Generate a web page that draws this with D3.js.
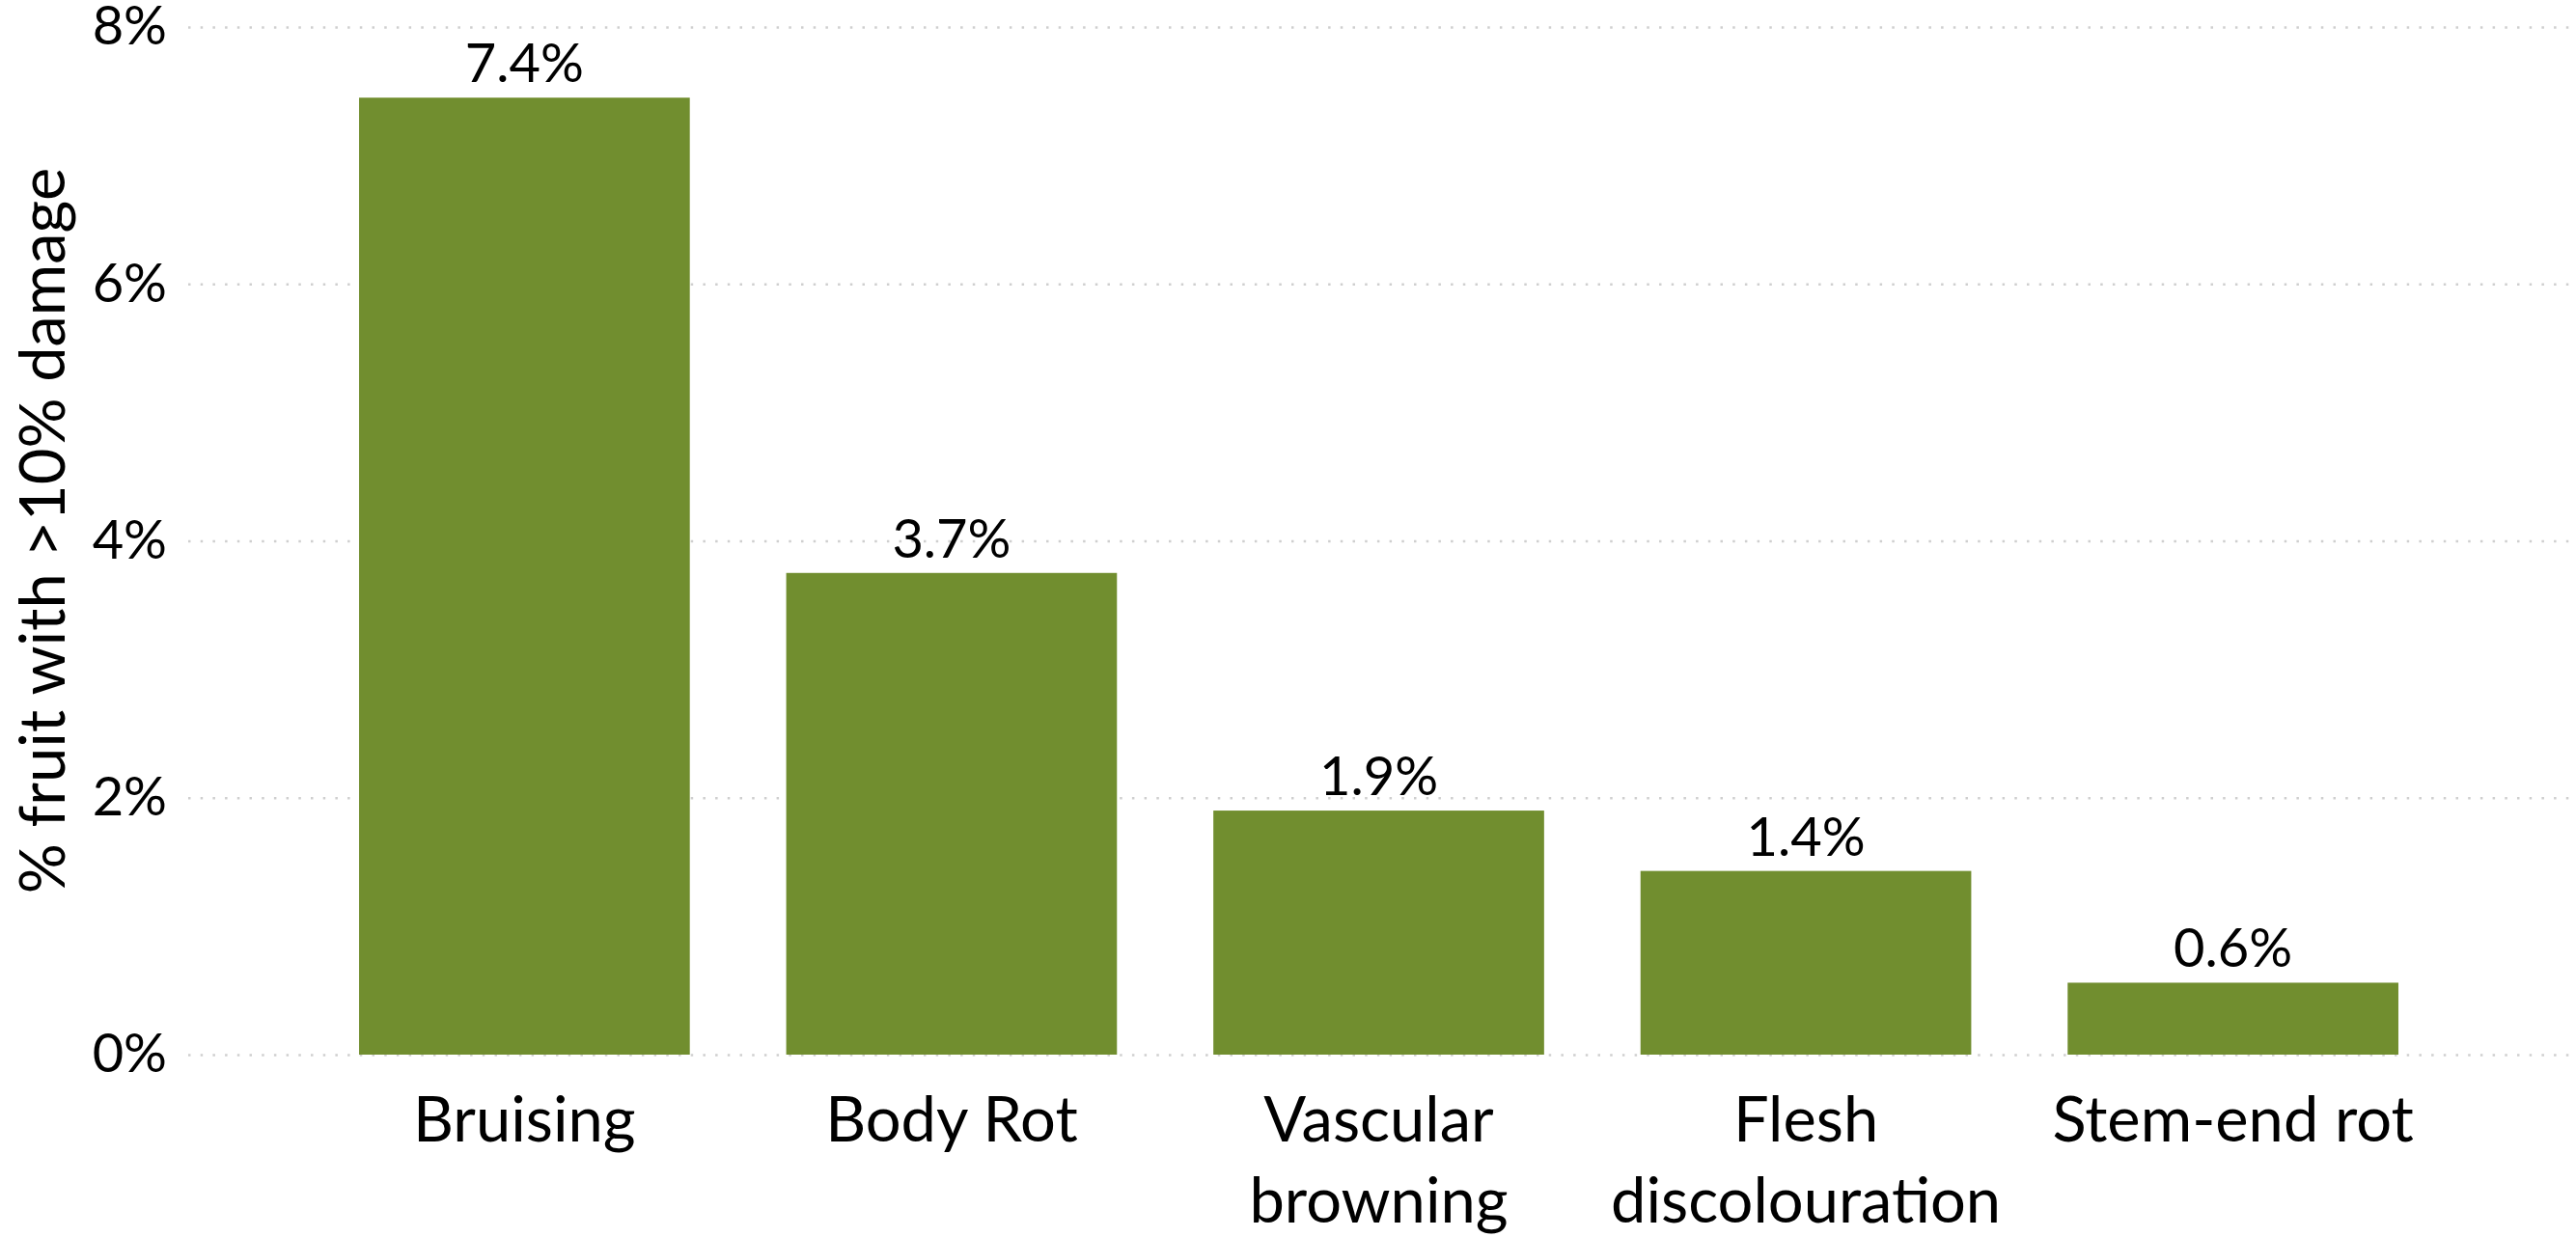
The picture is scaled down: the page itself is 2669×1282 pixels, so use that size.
<html>

<head>
  <script src="https://d3js.org/d3.v7.min.js"></script>
  <style>
    body {
      margin: 0;
      background: white;
    }

    text {
      font-family: Lato, "Open Sans", sans-serif;
      fill: black;
    }

    .grid line {
      stroke: #cfcfcf;
      stroke-width: 2.5px;
      stroke-dasharray: 2.5 10.2;
    }
  </style>
</head>

<body>
  <svg id="chart" height="1282" width="2669"></svg>
  <script>
    // data
    const categories = ["Bruising", "Body Rot", "Vascular browning", "Flesh discolouration", "Stem-end rot"];
    const categoryLines = [["Bruising"], ["Body Rot"], ["Vascular", "browning"], ["Flesh", "discolouration"], ["Stem-end rot"]];
    const damage = [7.45, 3.75, 1.90, 1.43, 0.56];
    const damageLabels = ["7.4%", "3.7%", "1.9%", "1.4%", "0.6%"];
    const yTicks = [0, 2, 4, 6, 8];

    let svg = d3.select('svg#chart');

    let x = d3.scaleBand()
      .domain(categories)
      .range([195, 2662])
      .paddingInner(0.2257)
      .paddingOuter(0.4);

    let y = d3.scaleLinear()
      .domain([0, 8])
      .range([1093, 28]);

    // dotted gridlines
    svg.append('g')
      .attr('class', 'grid')
      .attr('transform', 'translate(195,0)')
      .call(d3.axisLeft(y).tickValues(yTicks).tickSize(-2467).tickFormat(''))
      .call(g => g.select('.domain').remove());

    // y tick labels
    let yAxis = svg.append('g')
      .attr('transform', 'translate(173,0)')
      .call(d3.axisLeft(y).tickValues(yTicks).tickSize(0).tickPadding(0).tickFormat(d => d + '%'));
    yAxis.select('.domain').remove();
    yAxis.selectAll('text')
      .style('font-family', 'Lato, sans-serif')
      .attr('font-size', 56);

    // bars
    svg.append('g')
      .selectAll('rect')
      .data(damage)
      .join('rect')
      .attr('x', (d, i) => x(categories[i]))
      .attr('width', x.bandwidth())
      .attr('y', d => y(d))
      .attr('height', d => y(0) - y(d))
      .attr('fill', '#718e2f');

    // value labels
    svg.append('g')
      .selectAll('text')
      .data(damage)
      .join('text')
      .attr('x', (d, i) => x(categories[i]) + x.bandwidth() / 2)
      .attr('y', d => y(d) - 16)
      .attr('text-anchor', 'middle')
      .attr('font-size', 56)
      .text((d, i) => damageLabels[i]);

    // category labels
    let cats = svg.append('g')
      .selectAll('text')
      .data(categories)
      .join('text')
      .attr('x', d => x(d) + x.bandwidth() / 2)
      .attr('y', 1183)
      .attr('text-anchor', 'middle')
      .attr('font-size', 65);
    cats.selectAll('tspan')
      .data((d, i) => categoryLines[i])
      .join('tspan')
      .attr('x', function () { return this.parentNode.getAttribute('x'); })
      .attr('dy', (d, j) => j === 0 ? 0 : 84)
      .text(d => d);

    // y axis title
    svg.append('text')
      .attr('transform', 'translate(67,550) rotate(-90)')
      .attr('text-anchor', 'middle')
      .attr('font-size', 65)
      .text('% fruit with >10% damage');
  </script>

</body>

</html>
